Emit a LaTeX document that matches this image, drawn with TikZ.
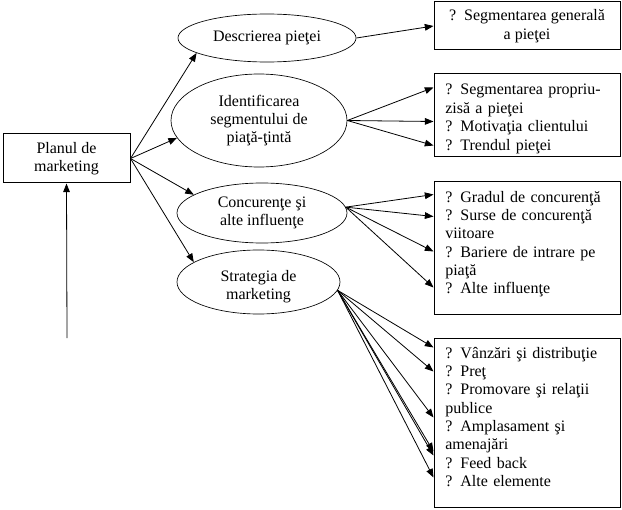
\documentclass[tikz,border=0pt]{standalone}
\usepackage{fontspec}
\setmainfont{Liberation Serif}
\usetikzlibrary{shapes.geometric,arrows.meta,calc}
\begin{document}
\begin{tikzpicture}[x=0.75pt,y=-0.75pt,
  box/.style={draw, rectangle, line width=0.75pt, inner sep=0pt},
  oval/.style={draw, ellipse, line width=0.5pt, inner sep=0pt, align=center},
  txt/.style={font=\fontsize{12}{13.8}\selectfont},
  arr/.style={-{Triangle[length=6.5pt,width=5pt]}, line width=0.6pt},
  list/.style={anchor=base west, inner sep=0pt, text width=135pt, align=left}]
\useasboundingbox (0,0) rectangle (622,510);
% main box
\node[box, txt, align=center, minimum width=127*0.75pt, minimum height=49*0.75pt] (plan) at (66.5,158.5) {Planul de\\marketing};
% ellipses
\node[oval, txt, minimum width=178*0.75pt, minimum height=48*0.75pt] (desc) at (267,38) {Descrierea pieţei};
\node[oval, txt, minimum width=176*0.75pt, minimum height=93*0.75pt] (ident) at (259,120.5) {Identificarea\\segmentului de\\piaţă-ţintă};
\node[oval, txt, minimum width=170*0.75pt, minimum height=60*0.75pt] (conc) at (262,213) {Concurenţe şi\\alte influenţe};
\node[oval, minimum width=163*0.75pt, minimum height=64*0.75pt,
  label={[txt, align=center, inner sep=0pt, yshift=-3.5pt]center:Strategia de\\marketing}] (strat) at (258.5,282) {};
% right boxes
\node[box, txt, align=center, minimum width=186*0.75pt, minimum height=48*0.75pt] (b1) at (527,26) {?\ \ Segmentarea generală\\a pieţei};
\node[box, minimum width=186*0.75pt, minimum height=83*0.75pt] (b2) at (527,115.5) {};
\node[box, minimum width=186*0.75pt, minimum height=132*0.75pt] (b3) at (527,248) {};
\node[box, minimum width=186*0.75pt, minimum height=169*0.75pt] (b4) at (527,422.5) {};
\node[list, txt] (t2) at (445,95) {? Segmentarea propriu-\\zisă a pieţei\\? Motivaţia clientului\\? Trendul pieţei};
\node[list, txt] (t3) at (445,202) {? Gradul de concurenţă\\? Surse de concurenţă\\viitoare\\? Bariere de intrare pe\\piaţă\\? Alte influenţe};
\node[list, txt] (t4) at (445,358) {? Vânzări şi distribuţie\\? Preţ\\? Promovare şi relaţii\\publice\\? Amplasament şi\\amenajări\\? Feed back\\? Alte elemente};
% connectors
\draw[arr] (plan.east) -- (desc.192);
\draw[arr] (plan.east) -- (ident.192);
\draw[arr] (plan.east) -- (conc.165);
\draw[arr] (plan.east) -- (strat.163);
\draw[arr] (desc.east) -- (b1.west);
\foreach \d in {14,48,72} \draw[arr] (ident.east) -- ($(b2.north west)+(0,\d)$);
\foreach \d in {13,35,70,106} \draw[arr] (conc.4) -- ($(b3.north west)+(0,\d)$);
\foreach \d in {10,34,80,114,118,140} \draw[arr] (strat.-6) -- ($(b4.north west)+(0,\d)$);
\coordinate (vb) at (67,338);
\draw[arr] (vb) -- (plan.south);
\end{tikzpicture}
\end{document}
